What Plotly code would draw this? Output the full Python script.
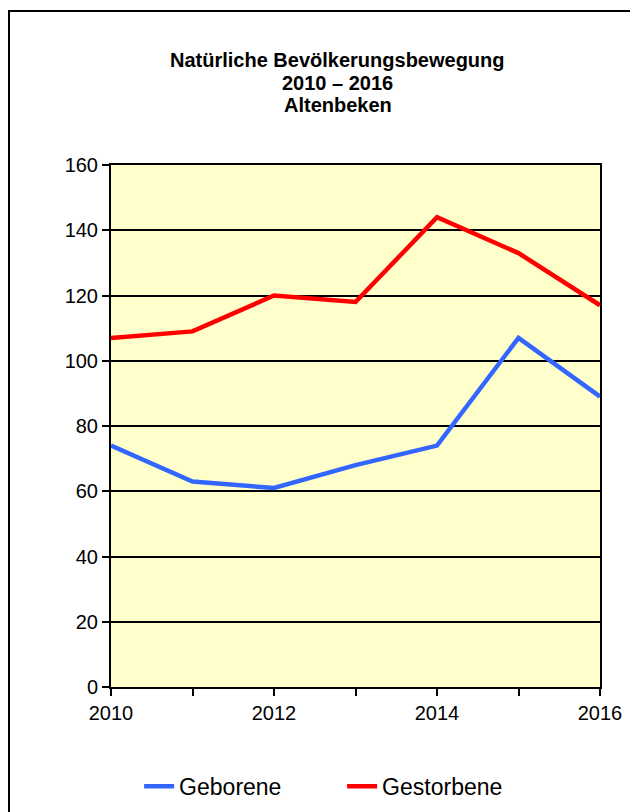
import plotly.graph_objects as go

# ── Data ──────────────────────────────────────────────────────────────────────
YEARS      = [2010, 2011, 2012, 2013, 2014, 2015, 2016]
GEBORENE   = [74, 63, 61, 68, 74, 107, 89]
GESTORBENE = [107, 109, 120, 118, 144, 133, 117]

TITLE_LINES = ["Natürliche Bevölkerungsbewegung", "2010 – 2016", "Altenbeken"]

# ── Style ─────────────────────────────────────────────────────────────────────
BLUE   = "#3366FF"
RED    = "#FF0000"
PLOTBG = "#FFFFCC"
FONT   = "Liberation Sans, Arial, sans-serif"

fig = go.Figure()
fig.add_trace(go.Scatter(x=YEARS, y=GEBORENE, name="Geborene", mode="lines",
                         line=dict(color=BLUE, width=4.5)))
fig.add_trace(go.Scatter(x=YEARS, y=GESTORBENE, name="Gestorbene", mode="lines",
                         line=dict(color=RED, width=4.5)))

axis_common = dict(
    showline=True, linecolor="black", linewidth=2, mirror=True,
    ticks="outside", ticklen=7, tickwidth=2, tickcolor="black",
    tickfont=dict(family=FONT, size=20, color="black"),
    zeroline=False,
)

fig.update_xaxes(
    **axis_common,
    range=[2010, 2016], tickvals=[2010, 2012, 2014, 2016],
    minor=dict(ticks="outside", ticklen=7, tickwidth=2, tickcolor="black", dtick=1,
               tick0=2010, showgrid=False),
    showgrid=False,
)
fig.update_yaxes(
    **axis_common,
    range=[0, 160], dtick=20,
    showgrid=True, gridcolor="black", gridwidth=2,
)

fig.update_layout(
    width=630, height=812,
    paper_bgcolor="white", plot_bgcolor=PLOTBG,
    margin=dict(l=103, r=38, t=157, b=130),
    font=dict(family=FONT, color="black"),
    showlegend=True,
    legend=dict(orientation="h", x=0.0575, xanchor="left", y=-0.19, yanchor="middle",
                font=dict(family=FONT, size=23, color="black"),
                entrywidth=158, bgcolor="rgba(0,0,0,0)"),
)

# three-line bold title, tighter line spacing than plotly's default
for text, ypos in zip(TITLE_LINES, [1.2019, 1.158, 1.1143]):
    fig.add_annotation(text=f"<b>{text}</b>", xref="paper", yref="paper",
                       x=0.464, y=ypos, xanchor="center", yanchor="middle",
                       showarrow=False, font=dict(family=FONT, size=20, color="black"))

# outer frame of the chart
fig.add_shape(type="rect", xref="paper", yref="paper",
              x0=-0.2086, x1=1.2, y0=-0.5, y1=1.2952,
              line=dict(color="black", width=2), fillcolor="rgba(0,0,0,0)",
              layer="below")

fig.write_html("out.html")
